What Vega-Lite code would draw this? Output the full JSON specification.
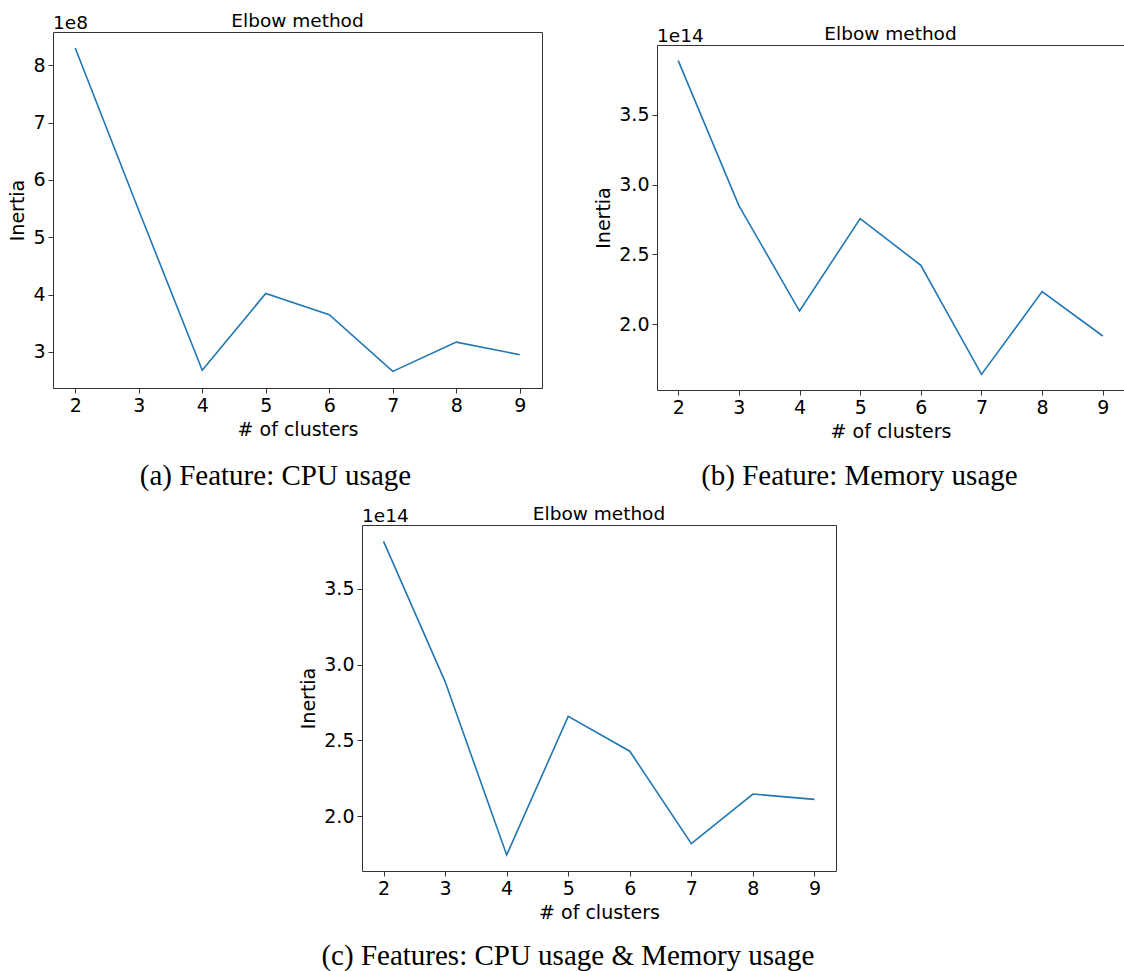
{
  "$schema": "https://vega.github.io/schema/vega-lite/v6.json",
  "padding": {"left": 8, "top": 10, "right": 0, "bottom": 0},
  "spacing": 13,
  "config": {
    "view": {"stroke": "#333", "strokeWidth": 1},
    "axis": {
      "domain": false,
      "grid": false,
      "tickColor": "#333",
      "tickSize": 5,
      "tickWidth": 1,
      "labelFont": "DejaVu Sans",
      "labelFontSize": 19,
      "labelColor": "#000",
      "labelPadding": 3,
      "labelFlush": false,
      "titleFont": "DejaVu Sans",
      "titleFontSize": 19,
      "titleFontWeight": "normal",
      "titleColor": "#000",
      "titlePadding": 5
    },
    "title": {"font": "DejaVu Sans", "fontSize": 18.5, "fontWeight": "normal", "color": "#000"}
  },
  "vconcat": [
    {
      "spacing": 51,
      "hconcat": [
        {
          "title": {"text": "(a) Feature: CPU usage", "orient": "bottom", "anchor": "middle", "frame": "bounds", "font": "Liberation Serif", "fontSize": 29, "offset": 22},
          "spacing": 0,
          "vconcat": [
            {
              "width": 1,
              "height": 1,
              "view": {"stroke": null},
              "data": {"values": []},
              "mark": {"type": "point", "opacity": 0},
              "encoding": {}
            },
            {
              "width": 489,
              "height": 356,
              "title": {"text": "Elbow method", "anchor": "middle", "frame": "group", "offset": -16},
              "data": {"values": [
                {"clusters": 2, "inertia": 830000000},
                {"clusters": 3, "inertia": 547000000},
                {"clusters": 4, "inertia": 268000000},
                {"clusters": 5, "inertia": 402000000},
                {"clusters": 6, "inertia": 365000000},
                {"clusters": 7, "inertia": 266000000},
                {"clusters": 8, "inertia": 317000000},
                {"clusters": 9, "inertia": 295000000}
              ]},
              "layer": [
                {
                  "mark": {"type": "line", "color": "#1f77b4", "strokeWidth": 1.6},
                  "encoding": {
                    "x": {"field": "clusters", "type": "quantitative", "title": "# of clusters",
                          "scale": {"domain": [1.65, 9.35], "nice": false, "zero": false},
                          "axis": {"values": [2, 3, 4, 5, 6, 7, 8, 9], "format": "d"}},
                    "y": {"field": "inertia", "type": "quantitative", "title": "Inertia",
                          "scale": {"domain": [237000000, 858000000], "nice": false, "zero": false},
                          "axis": {"values": [300000000, 400000000, 500000000, 600000000, 700000000, 800000000],
                                   "labelExpr": "format(datum.value / 1e8, '.0f')"}}
                  }
                },
                {
                  "data": {"values": [{"multiplier": "1e8"}]},
                  "mark": {"type": "text", "align": "left", "baseline": "bottom", "font": "DejaVu Sans", "fontSize": 18.5, "color": "#000", "dy": 1},
                  "encoding": {
                    "x": {"datum": 1.65, "type": "quantitative"},
                    "y": {"datum": 858000000, "type": "quantitative"},
                    "text": {"field": "multiplier"}
                  }
                }
              ]
            }
          ]
        },
        {
          "title": {"text": "(b) Feature: Memory usage", "orient": "bottom", "anchor": "middle", "frame": "bounds", "font": "Liberation Serif", "fontSize": 29, "offset": 20},
          "spacing": 13,
          "vconcat": [
            {
              "width": 1,
              "height": 1,
              "view": {"stroke": null},
              "data": {"values": []},
              "mark": {"type": "point", "opacity": 0},
              "encoding": {}
            },
            {
              "width": 467,
              "height": 345,
              "title": {"text": "Elbow method", "anchor": "middle", "frame": "group", "offset": -16},
              "data": {"values": [
                {"clusters": 2, "inertia": 388800000000000},
                {"clusters": 3, "inertia": 284900000000000},
                {"clusters": 4, "inertia": 209300000000000},
                {"clusters": 5, "inertia": 275600000000000},
                {"clusters": 6, "inertia": 242100000000000},
                {"clusters": 7, "inertia": 163900000000000},
                {"clusters": 8, "inertia": 223200000000000},
                {"clusters": 9, "inertia": 191400000000000}
              ]},
              "layer": [
                {
                  "mark": {"type": "line", "color": "#1f77b4", "strokeWidth": 1.6},
                  "encoding": {
                    "x": {"field": "clusters", "type": "quantitative", "title": "# of clusters",
                          "scale": {"domain": [1.65, 9.35], "nice": false, "zero": false},
                          "axis": {"values": [2, 3, 4, 5, 6, 7, 8, 9], "format": "d"}},
                    "y": {"field": "inertia", "type": "quantitative", "title": "Inertia",
                          "scale": {"domain": [152700000000000, 400000000000000], "nice": false, "zero": false},
                          "axis": {"values": [200000000000000, 250000000000000, 300000000000000, 350000000000000],
                                   "labelExpr": "format(datum.value / 1e14, '.1f')"}}
                  }
                },
                {
                  "data": {"values": [{"multiplier": "1e14"}]},
                  "mark": {"type": "text", "align": "left", "baseline": "bottom", "font": "DejaVu Sans", "fontSize": 18.5, "color": "#000", "dy": 1},
                  "encoding": {
                    "x": {"datum": 1.65, "type": "quantitative"},
                    "y": {"datum": 400000000000000, "type": "quantitative"},
                    "text": {"field": "multiplier"}
                  }
                }
              ]
            }
          ]
        }
      ]
    },
    {
      "spacing": 0,
      "hconcat": [
        {
          "width": 246,
          "height": 1,
          "view": {"stroke": null},
          "data": {"values": []},
          "mark": {"type": "point", "opacity": 0},
          "encoding": {}
        },
        {
          "title": {"text": "(c) Features: CPU usage & Memory usage", "orient": "bottom", "anchor": "middle", "frame": "bounds", "font": "Liberation Serif", "fontSize": 29, "offset": 19},
          "vconcat": [
            {
              "width": 474,
              "height": 346,
              "title": {"text": "Elbow method", "anchor": "middle", "frame": "group", "offset": -16},
              "data": {"values": [
                {"clusters": 2, "inertia": 381400000000000},
                {"clusters": 3, "inertia": 288800000000000},
                {"clusters": 4, "inertia": 174300000000000},
                {"clusters": 5, "inertia": 265800000000000},
                {"clusters": 6, "inertia": 242800000000000},
                {"clusters": 7, "inertia": 181800000000000},
                {"clusters": 8, "inertia": 214500000000000},
                {"clusters": 9, "inertia": 211000000000000}
              ]},
              "layer": [
                {
                  "mark": {"type": "line", "color": "#1f77b4", "strokeWidth": 1.6},
                  "encoding": {
                    "x": {"field": "clusters", "type": "quantitative", "title": "# of clusters",
                          "scale": {"domain": [1.65, 9.35], "nice": false, "zero": false},
                          "axis": {"values": [2, 3, 4, 5, 6, 7, 8, 9], "format": "d"}},
                    "y": {"field": "inertia", "type": "quantitative", "title": "Inertia",
                          "scale": {"domain": [163700000000000, 392200000000000], "nice": false, "zero": false},
                          "axis": {"values": [200000000000000, 250000000000000, 300000000000000, 350000000000000],
                                   "labelExpr": "format(datum.value / 1e14, '.1f')"}}
                  }
                },
                {
                  "data": {"values": [{"multiplier": "1e14"}]},
                  "mark": {"type": "text", "align": "left", "baseline": "bottom", "font": "DejaVu Sans", "fontSize": 18.5, "color": "#000", "dy": 1},
                  "encoding": {
                    "x": {"datum": 1.65, "type": "quantitative"},
                    "y": {"datum": 392200000000000, "type": "quantitative"},
                    "text": {"field": "multiplier"}
                  }
                }
              ]
            }
          ]
        }
      ]
    }
  ]
}
